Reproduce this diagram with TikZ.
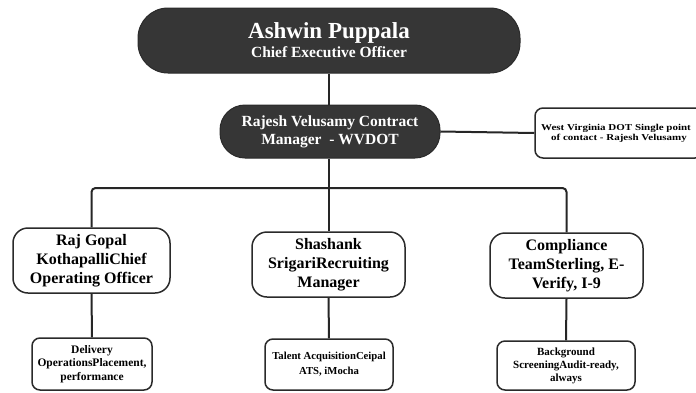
\documentclass[tikz,border=0pt]{standalone}
\usepackage{fontspec}
\setmainfont{LiberationSerif}[Extension=.ttf, UprightFont=*-Regular, BoldFont=*-Bold]
\newfontfamily\widefont{LiberationSerif}[Extension=.ttf, UprightFont=*-Regular, BoldFont=*-Bold, FakeStretch=1.22]
\definecolor{darkfill}{HTML}{363636}
\definecolor{edgecol}{HTML}{2A2A2A}
\tikzset{
  pill/.style={draw=edgecol, line width=1pt, fill=darkfill, text=white, align=center, inner sep=0pt},
  whitebox/.style={draw=edgecol, line width=1.5pt, fill=white, text=black, align=center, inner sep=0pt},
  conn/.style={draw=black!85, line width=2pt},
}
\begin{document}
\begin{tikzpicture}[x=1pt,y=-1pt]
\useasboundingbox (0,0) rectangle (696,392);
\clip (0,0) rectangle (696,392);
% nodes
\node[pill, minimum width=382pt, minimum height=65pt, rounded corners=30pt] (ceo) at (329,40.5)
  {{\fontsize{23}{24}\selectfont\bfseries Ashwin Puppala}\\[2pt]{\fontsize{15.5}{17}\selectfont\bfseries Chief Executive Officer}};
\node[pill, minimum width=220pt, minimum height=53pt, rounded corners=25pt, font={\fontsize{15.5}{18}\selectfont\bfseries}] (mgr) at (330,131.5)
  {Rajesh Velusamy Contract\\Manager~~- WVDOT};
\node[whitebox, minimum width=168pt, minimum height=50pt, rounded corners=8pt, font={\widefont\fontsize{9}{10}\selectfont\bfseries}] (spoc) at (619,133)
  {\hspace*{-6pt}West Virginia DOT Single point\\of contact - Rajesh Velusamy};
\node[whitebox, minimum width=157pt, minimum height=65pt, rounded corners=15pt, font={\fontsize{16}{19}\selectfont\bfseries}] (coo) at (91.5,260.5)
  {Raj Gopal\\KothapalliChief\\Operating Officer};
\node[whitebox, minimum width=153pt, minimum height=65pt, rounded corners=15pt, font={\fontsize{16}{19}\selectfont\bfseries}] (rec) at (328.5,264.5)
  {Shashank\\SrigariRecruiting\\Manager};
\node[whitebox, minimum width=153pt, minimum height=65pt, rounded corners=15pt, font={\fontsize{16}{19}\selectfont\bfseries}] (comp) at (566.5,265.5)
  {Compliance\\TeamSterling, E-\\Verify, I-9};
\node[whitebox, minimum width=120pt, minimum height=52pt, rounded corners=8pt, font={\fontsize{11.5}{13.5}\selectfont\bfseries}] (del) at (92,364)
  {Delivery\\OperationsPlacement,\\performance};
\node[whitebox, minimum width=128pt, minimum height=51pt, rounded corners=8pt, font={\fontsize{10.7}{15}\selectfont\bfseries}] (tal) at (329,364.5)
  {Talent AcquisitionCeipal\\ATS, iMocha};
\node[whitebox, minimum width=138pt, minimum height=49pt, rounded corners=8pt, font={\fontsize{11}{13}\selectfont\bfseries}] (bg) at (566,365.5)
  {Background\\ScreeningAudit-ready,\\always};
\coordinate (bus) at (328,188);
% connectors
\draw[conn] (ceo.south) -- (mgr.north -| ceo.south);
\draw[conn] (mgr.east) -- (spoc.west);
\draw[conn] (mgr.south -| rec.north) -- (rec.north);
\draw[conn, rounded corners=4pt] (coo.north) |- (bus) -| (comp.north);
\draw[conn] (coo.south) -- (del.north);
\draw[conn] (rec.south) -- (tal.north);
\draw[conn] (comp.south) -- (bg.north);
\end{tikzpicture}
\end{document}
